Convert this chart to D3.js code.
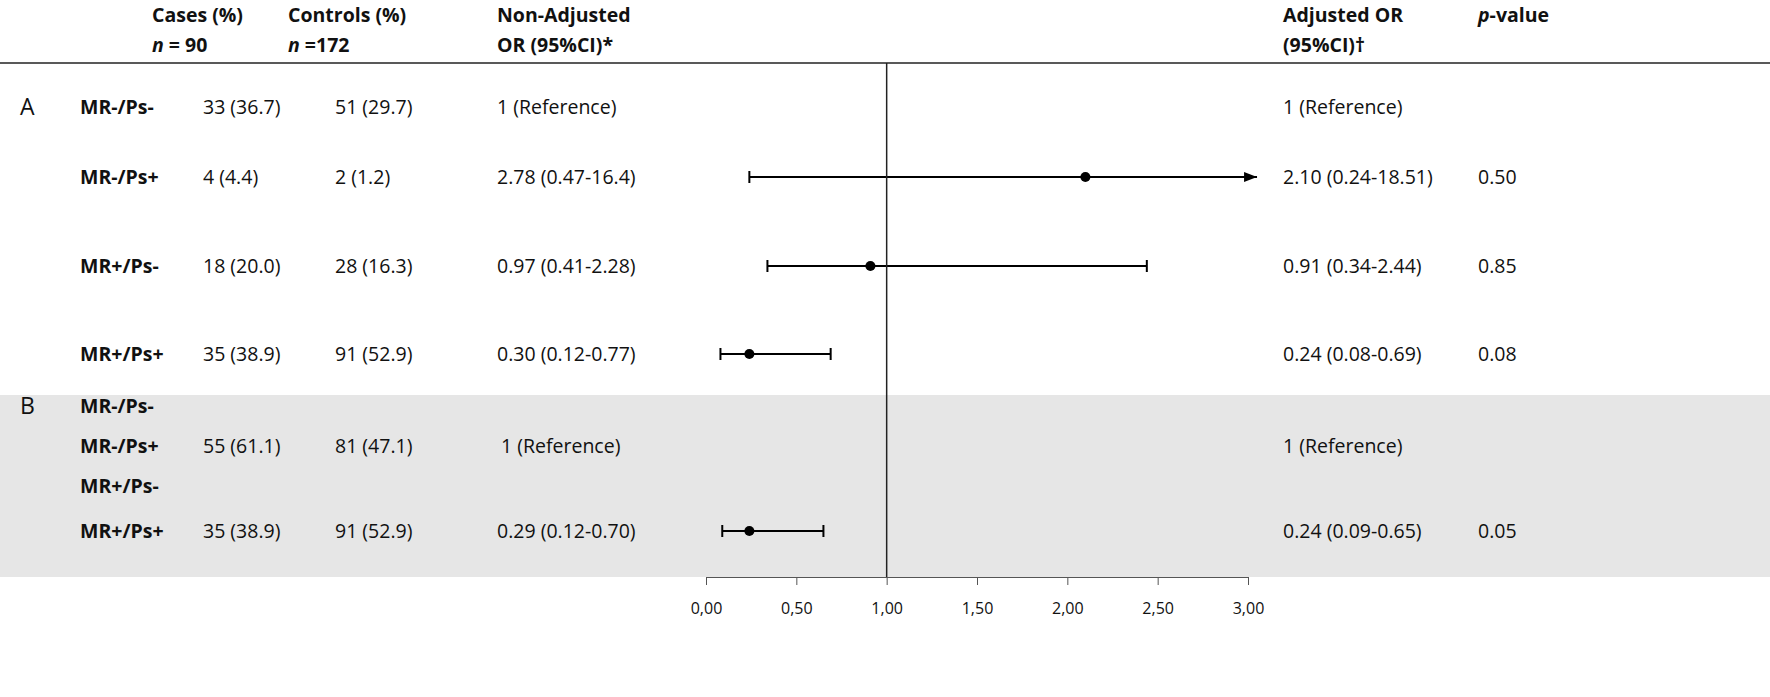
<!DOCTYPE html>
<html><head><meta charset="utf-8">
<script src="https://cdn.jsdelivr.net/npm/d3@7"></script>
<style>body{margin:0;background:#fff}text{font-family:"Open Sans",sans-serif;font-size:19.5px;fill:#111}</style>
</head><body><svg id="c" width="1770" height="697"></svg>
<script>
const groups = ["A","","","","B",""];
const labels = [["MR-/Ps-"],["MR-/Ps+"],["MR+/Ps-"],["MR+/Ps+"],["MR-/Ps-","MR-/Ps+","MR+/Ps-"],["MR+/Ps+"]];
const cases = ["33 (36.7)","4 (4.4)","18 (20.0)","35 (38.9)","55 (61.1)","35 (38.9)"];
const controls = ["51 (29.7)","2 (1.2)","28 (16.3)","91 (52.9)","81 (47.1)","91 (52.9)"];
const nonAdj = ["1 (Reference)","2.78 (0.47-16.4)","0.97 (0.41-2.28)","0.30 (0.12-0.77)","1 (Reference)","0.29 (0.12-0.70)"];
const adj = ["1 (Reference)","2.10 (0.24-18.51)","0.91 (0.34-2.44)","0.24 (0.08-0.69)","1 (Reference)","0.24 (0.09-0.65)"];
const pvals = ["","0.50","0.85","0.08","","0.05"];
const orEst = [null,2.10,0.91,0.24,null,0.24];
const orLo = [null,0.24,0.34,0.08,null,0.09];
const orHi = [null,18.51,2.44,0.69,null,0.65];
const ticks = [0,0.5,1,1.5,2,2.5,3];

const svg = d3.select("#c");
const x = d3.scaleLinear().domain([0,3]).range([706,1248]);
const rowY = [107,177,266,354,446,531];

svg.append("rect").attr("x",0).attr("y",395).attr("width",1770).attr("height",182).attr("fill","#e6e6e6");
svg.append("line").attr("x1",0).attr("x2",1770).attr("y1",63).attr("y2",63).attr("stroke","#222").attr("stroke-width",1.5);

const hdr = [[152,"Cases (%)",[["n",1]," = 90"]],[288,"Controls (%)",[["n",1]," =172"]],[497,"Non-Adjusted","OR (95%CI)*"],[1283,"Adjusted OR","(95%CI)†"]];
hdr.forEach(h=>{
  svg.append("text").attr("x",h[0]).attr("y",22).attr("font-weight","bold").text(h[1]);
  const t = svg.append("text").attr("x",h[0]).attr("y",52).attr("font-weight","bold");
  if(Array.isArray(h[2])){t.append("tspan").attr("font-style","italic").text("n");t.append("tspan").text(h[2][1]);}
  else t.text(h[2]);
});
const pv = svg.append("text").attr("x",1478).attr("y",22).attr("font-weight","bold");
pv.append("tspan").attr("font-style","italic").text("p");pv.append("tspan").text("-value");

rowY.forEach((y,i)=>{
  if(groups[i]) svg.append("text").attr("x",20).attr("y",i==4?y-32:y+8).style("font-size","23px").text(groups[i]);
  labels[i].forEach((l,j)=>svg.append("text").attr("x",80).attr("y",(labels[i].length>1? y-40+j*40 : y)+7).attr("font-weight","bold").text(l));
  svg.append("text").attr("x",203).attr("y",y+7).text(cases[i]);
  svg.append("text").attr("x",335).attr("y",y+7).text(controls[i]);
  svg.append("text").attr("x",i==4?501:497).attr("y",y+7).text(nonAdj[i]);
  svg.append("text").attr("x",1283).attr("y",y+7).text(adj[i]);
  svg.append("text").attr("x",1478).attr("y",y+7).text(pvals[i]);
  if(orEst[i]!=null){
    const hi = Math.min(orHi[i],3.05);
    svg.append("line").attr("x1",x(orLo[i])).attr("x2",x(hi)).attr("y1",y).attr("y2",y).attr("stroke","#000").attr("stroke-width",2);
    svg.append("line").attr("x1",x(orLo[i])).attr("x2",x(orLo[i])).attr("y1",y-6).attr("y2",y+6).attr("stroke","#000").attr("stroke-width",2);
    if(orHi[i]>3){
      const xe=x(3.05);
      svg.append("path").attr("d",`M${xe},${y} L${xe-13},${y-5} L${xe-13},${y+5}Z`).attr("fill","#000");
    } else svg.append("line").attr("x1",x(hi)).attr("x2",x(hi)).attr("y1",y-6).attr("y2",y+6).attr("stroke","#000").attr("stroke-width",2);
    svg.append("circle").attr("cx",x(orEst[i])).attr("cy",y).attr("r",5).attr("fill","#000");
  }
});
svg.append("line").attr("x1",x(1)).attr("x2",x(1)).attr("y1",63).attr("y2",577).attr("stroke","#222").attr("stroke-width",1.5);
const ax = svg.append("g").attr("transform","translate(0,577)")
  .call(d3.axisBottom(x).tickValues(ticks).tickSize(8).tickFormat(d=>d3.format(".2f")(d).replace(".",",")));
ax.selectAll("text").attr("dy","1.6em").style("font-size","16px").style("font-family","Open Sans");
ax.selectAll("line,path").attr("stroke","#555");
</script></body></html>
